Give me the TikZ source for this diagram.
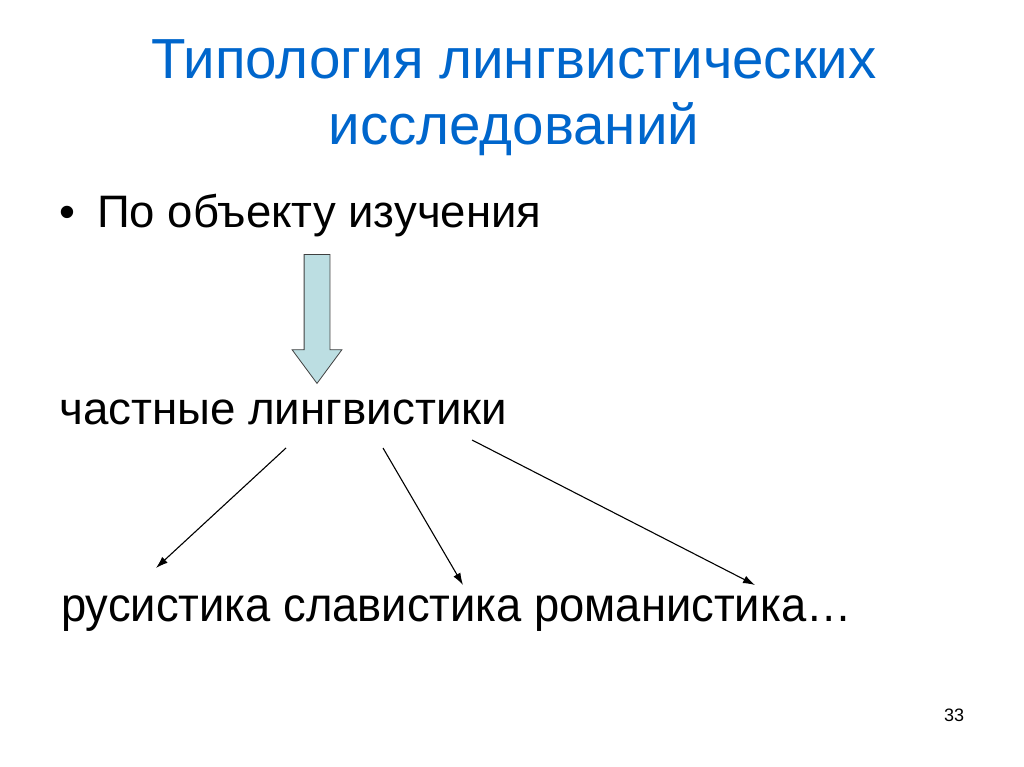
\documentclass[tikz,border=0pt]{standalone}
\usepackage{fontspec}
\setmainfont{Liberation Sans}
\usepackage{tikz}
\usetikzlibrary{shapes,arrows,arrows.meta,positioning}
\definecolor{titleblue}{RGB}{0,102,204}
\definecolor{arrowfill}{RGB}{188,222,226}

\begin{document}
\begin{tikzpicture}[x=1pt, y=-1pt, every node/.style={inner sep=0pt}]
\useasboundingbox (0,0) rectangle (1024,767);
\node (title) [align=center, text=titleblue, font=\fontsize{56.5}{66}\selectfont, anchor=base] at (514,145) {Типология лингвистических\\исследований};
\node (object) [anchor=base west, font=\fontsize{45.5}{54}\selectfont] at (59,227) {\textbullet\hspace{22pt}По объекту изучения};
\node (bigarrow) [single arrow, draw=black!75, fill=arrowfill, line width=0.8pt, rotate=-90, minimum height=129pt, inner ysep=12.5pt, single arrow head extend=12pt, single arrow tip angle=73, anchor=tail] at (317,254) {};
\node (private) [anchor=base west, font=\fontsize{45.7}{54}\selectfont] at (59,424) {частные лингвистики};
\node (branches) [anchor=base west, font=\fontsize{48}{56}\selectfont] at (61,621) {\scalebox{0.944}[1]{русистика славистика романистика\ldots}};
\node (pagenum) [font=\fontsize{18}{20}\selectfont] at (954,715) {33};

% points under and over the lines of text
\coordinate (p1) at (286,448);
\coordinate (p2) at (383,448);
\coordinate (p3) at (472,440);
\coordinate (q1) at (156,568);
\coordinate (q2) at (463,585);
\coordinate (q3) at (755,585);

\draw [-{Latex[length=12pt,width=8pt]}, line width=1.1pt] (p1) -- (q1);
\draw [-{Latex[length=12pt,width=8pt]}, line width=1.1pt] (p2) -- (q2);
\draw [-{Latex[length=12pt,width=8pt]}, line width=1.1pt] (p3) -- (q3);
\end{tikzpicture}
\end{document}
